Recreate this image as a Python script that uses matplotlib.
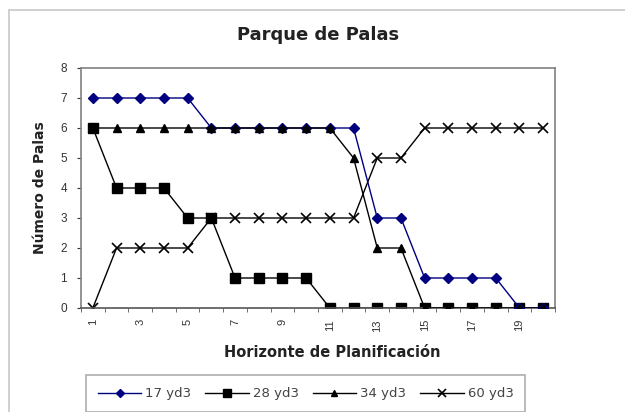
import matplotlib
matplotlib.use("Agg")
import matplotlib.pyplot as plt
from matplotlib.patches import Rectangle

periods = list(range(1, 21))
s17 = [7, 7, 7, 7, 7, 6, 6, 6, 6, 6, 6, 6, 3, 3, 1, 1, 1, 1, 0, 0]
s28 = [6, 4, 4, 4, 3, 3, 1, 1, 1, 1, 0, 0, 0, 0, 0, 0, 0, 0, 0, 0]
s34 = [6, 6, 6, 6, 6, 6, 6, 6, 6, 6, 6, 5, 2, 2, 0, 0, 0, 0, 0, 0]
s60 = [0, 2, 2, 2, 2, 3, 3, 3, 3, 3, 3, 3, 5, 5, 6, 6, 6, 6, 6, 6]
labels = ["17 yd3", "28 yd3", "34 yd3", "60 yd3"]
xtick_labels = [str(i) for i in range(1, 21, 2)]

plt.rcParams['font.family'] = ['Liberation Sans', 'DejaVu Sans']

W, H = 625, 412
fig = plt.figure(figsize=(W / 100, H / 100), dpi=100)
# outer chart area border
fig.patches.append(Rectangle((9 / W, -0.1), 1.2, (H - 10) / H + 0.1, transform=fig.transFigure,
                             fill=False, edgecolor='#c8c8c8', linewidth=1.2))

ax = fig.add_axes([81 / W, (H - 308) / H, (555 - 81) / W, (308 - 68) / H])
ax.plot(periods, s17, color='#000080', marker='D', markersize=5, linewidth=1, label=labels[0], zorder=3)
ax.plot(periods, s28, color='black', marker='s', markersize=7, linewidth=1, label=labels[1], zorder=2)
ax.plot(periods, s34, color='black', marker='^', markersize=6, linewidth=1, label=labels[2], zorder=4)
ax.plot(periods, s60, color='black', marker='x', markersize=7, markeredgewidth=1.2, linewidth=1, label=labels[3], zorder=2)

ax.set_xlim(0.5, 20.5)
ax.set_ylim(0, 8)
ax.set_yticks(range(0, 9))
ax.set_xticks(range(1, 21, 2))
ax.set_xticklabels(xtick_labels, rotation=90, fontsize=8, color='#333333')
ax.set_xticks([i + 0.5 for i in range(0, 21)], minor=True)
ax.tick_params(axis='x', which='major', length=0, pad=8)
ax.tick_params(axis='x', which='minor', length=3, direction='out', color='#555555')
ax.tick_params(axis='y', length=3, direction='out', labelsize=8.5, colors='#333333', pad=7)
for sp in ax.spines.values():
    sp.set_color('#808080')
    sp.set_linewidth(1.2)
ax.spines['bottom'].set_color('#555555')

ax.set_title("Parque de Palas", fontsize=13, fontweight='bold', pad=20, color='#222222',
             family='DejaVu Sans')
ax.set_xlabel("Horizonte de Planificación", fontsize=10.5, fontweight='bold', color='#222222',
              labelpad=6, family='DejaVu Sans')
ax.xaxis.set_label_coords(0.53, -0.155)
ax.set_ylabel("Número de Palas", fontsize=10, fontweight='bold', color='#222222',
              labelpad=10, family='DejaVu Sans')

leg = fig.legend(loc='lower left', bbox_to_anchor=(86 / W, 0), ncol=4, frameon=True,
                 fancybox=False, edgecolor='#999999', handlelength=3.3,
                 handletextpad=0.3, columnspacing=1.05, borderpad=0.9, markerscale=0.75,
                 borderaxespad=0, prop={'family': 'DejaVu Sans', 'size': 9.5})
leg.get_frame().set_linewidth(1.2)
for t in leg.get_texts():
    t.set_color('#444444')

fig.savefig("out.png", dpi=100)
